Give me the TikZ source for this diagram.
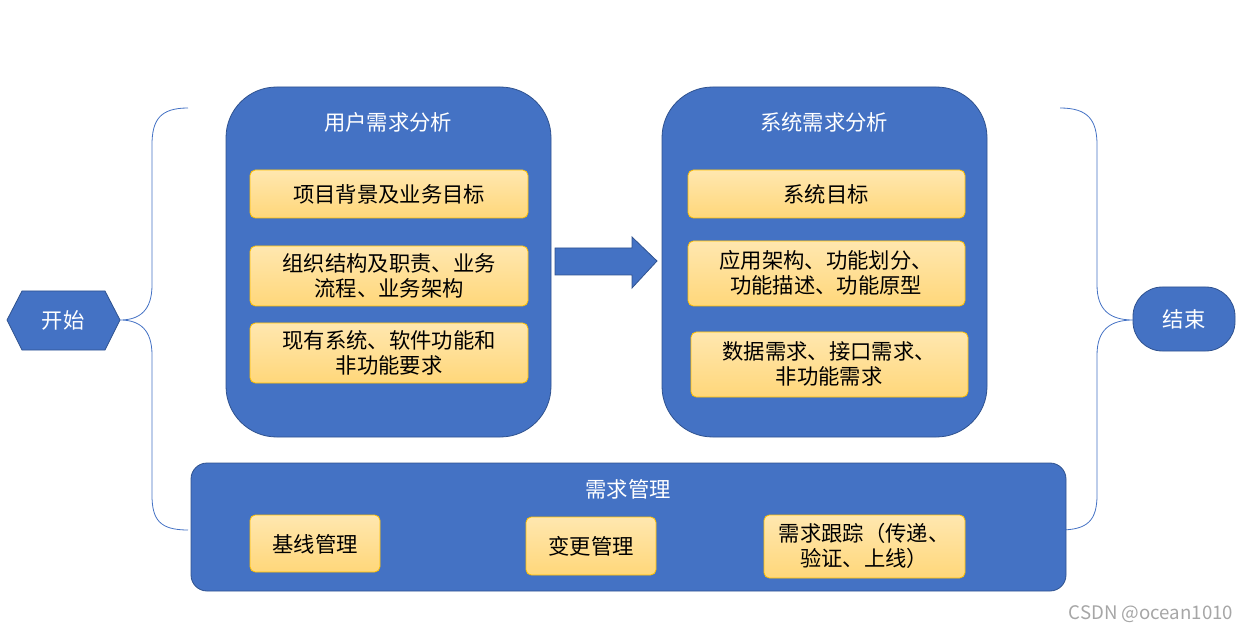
\documentclass[tikz,border=0pt]{standalone}
\usepackage{fontspec}
\setmainfont{Noto Sans CJK SC}
\usetikzlibrary{shapes.geometric}
\definecolor{blu}{HTML}{4472C4}
\definecolor{blud}{HTML}{2F528F}
\definecolor{orf}{HTML}{FFD77A}
\definecolor{orb}{HTML}{FFC000}
\begin{document}
\begin{tikzpicture}[x=0.75pt,y=-0.75pt,
  big/.style={draw=blud,fill=blu,line width=0.6pt},
  inner/.style={draw=orb,top color=orf!60!white,bottom color=orf,line width=0.6pt,rounded corners=4pt},
  tt/.style={text=white,font=\fontsize{16}{19}\selectfont},
  it/.style={text=black,font=\fontsize{16}{19}\selectfont,align=center},
  br/.style={draw=blu,line width=0.6pt}]
\useasboundingbox (0,0) rectangle (1241,634);
% start hexagon
\draw[big] (7,320) -- (22,291) -- (105,291) -- (120,320) -- (105,350) -- (22,350) -- cycle;
\node[tt] (start) at (63,320) {开始};
% end
\draw[big,rounded corners=22pt] (1133,287) rectangle (1235,351);
\node[tt] (end) at (1184,319) {结束};
% braces
\coordinate (lt) at (188,108); \coordinate (lb) at (188,530); \coordinate (lm) at (120,320);
\draw[br] (lt) .. controls (160,108) and (152,120) .. (152,145) -- (152,285) .. controls (152,310) and (140,320) .. (lm)
  .. controls (140,320) and (152,330) .. (152,355) -- (152,495) .. controls (152,520) and (160,530) .. (lb);
\coordinate (rt) at (1060,108); \coordinate (rb) at (1060,530); \coordinate (rm) at (1133,320);
\draw[br] (rt) .. controls (1088,108) and (1097,120) .. (1097,145) -- (1097,285) .. controls (1097,310) and (1110,320) .. (rm)
  .. controls (1110,320) and (1097,330) .. (1097,355) -- (1097,495) .. controls (1097,520) and (1088,530) .. (rb);
% user box
\draw[big,rounded corners=38pt] (226,87) rectangle (551,437);
\node[tt] (ut) at (388,122) {用户需求分析};
\draw[inner] (250,170) rectangle (528,218); \node[it] (u1) at (389,194) {项目背景及业务目标};
\draw[inner] (250,246) rectangle (528,306); \node[it] (u2) at (389,276) {组织结构及职责、业务\\流程、业务架构};
\draw[inner] (250,323) rectangle (528,383); \node[it] (u3) at (389,353) {现有系统、软件功能和\\非功能要求};
% arrow
\draw[big] (555,248) -- (632,248) -- (632,237) -- (657,261) -- (632,288) -- (632,275) -- (555,275) -- cycle;
% system box
\draw[big,rounded corners=38pt] (662,87) rectangle (987,437);
\node[tt] (st) at (824,122) {系统需求分析};
\draw[inner] (688,170) rectangle (965,218); \node[it] (s1) at (826,194) {系统目标};
\draw[inner] (688,241) rectangle (965,306); \node[it] (s2) at (826,273) {应用架构、功能划分、\\功能描述、功能原型};
\draw[inner] (691,332) rectangle (968,397); \node[it] (s3) at (829,364) {数据需求、接口需求、\\非功能需求};
% management
\draw[big,rounded corners=12pt] (191,463) rectangle (1066,591);
\node[tt] (mt) at (628,489) {需求管理};
\draw[inner] (250,515) rectangle (380,572); \node[it] (m1) at (315,544) {基线管理};
\draw[inner] (526,517) rectangle (656,575); \node[it] (m2) at (591,546) {变更管理};
\draw[inner] (764,515) rectangle (965,578); \node[it,align=left] (m3) at (864,546) {需求跟踪（传递、\\\hspace*{1em}验证、上线）};
% watermark
\node[text=gray!70,font=\fontsize{14}{16}\selectfont,anchor=east] (wm) at (1238,614) {CSDN @ocean1010};
\end{tikzpicture}
\end{document}
